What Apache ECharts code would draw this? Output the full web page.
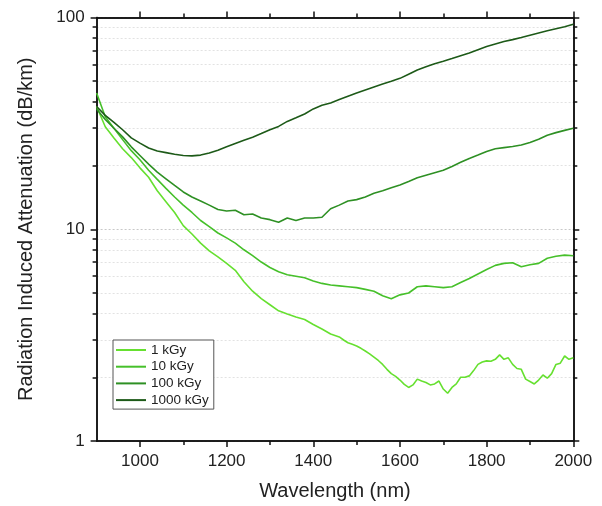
<!DOCTYPE html>
<html>
<head>
<meta charset="utf-8">
<script src="https://cdn.jsdelivr.net/npm/echarts@6/dist/echarts.min.js"></script>
<style>
  html, body { margin: 0; padding: 0; background: #fff; }
  #chart { width: 602px; height: 506px; }
</style>
</head>
<body>
<div id="chart"></div>
<script>
// Wavelength grid (nm) shared by the 10, 100 and 1000 kGy curves
const wavelength = [900, 920, 940, 960, 980, 1000, 1020, 1040, 1060, 1080,
  1100, 1120, 1140, 1160, 1180, 1200, 1220, 1240, 1260, 1280,
  1300, 1320, 1340, 1360, 1380, 1400, 1420, 1440, 1460, 1480,
  1500, 1520, 1540, 1560, 1580, 1600, 1620, 1640, 1660, 1680,
  1700, 1720, 1740, 1760, 1780, 1800, 1820, 1840, 1860, 1880,
  1900, 1920, 1940, 1960, 1980, 2000];

// Finer grid for the noisier 1 kGy curve
const wavelength1kGy = [900, 920, 940, 960, 980, 1000, 1020, 1040, 1060, 1080,
  1100, 1120, 1140, 1160, 1180, 1200, 1220, 1240, 1260, 1280,
  1300, 1320, 1340, 1360, 1380, 1400, 1420, 1440,
  1460, 1470, 1480, 1490, 1500, 1510, 1520, 1530, 1540, 1550,
  1560, 1570, 1580, 1590, 1600, 1610, 1620, 1630, 1640, 1650,
  1660, 1670, 1680, 1690, 1700, 1710, 1720, 1730, 1740, 1750,
  1760, 1770, 1780, 1790, 1800, 1810, 1820, 1830, 1840, 1850,
  1860, 1870, 1880, 1890, 1900, 1910, 1920, 1930, 1940, 1950,
  1960, 1970, 1980, 1990, 2000];

// Radiation induced attenuation (dB/km) per total dose
const ria1kGy = [38, 30.5, 27, 24, 21.8, 19.5, 17.6, 15.2, 13.5, 12.0,
  10.4, 9.5, 8.6, 7.9, 7.4, 6.9, 6.4, 5.65, 5.1, 4.7,
  4.4, 4.12, 3.98, 3.85, 3.75, 3.55, 3.38, 3.2,
  3.1, 3.0, 2.91, 2.86, 2.81, 2.74, 2.66, 2.58, 2.49, 2.40,
  2.30, 2.18, 2.08, 2.02, 1.94, 1.85, 1.79, 1.84, 1.96, 1.92,
  1.89, 1.84, 1.86, 1.92, 1.76, 1.68, 1.79, 1.86, 2.0, 2.0,
  2.03, 2.15, 2.30, 2.36, 2.39, 2.38, 2.43, 2.55, 2.43, 2.47,
  2.30, 2.20, 2.18, 1.96, 1.91, 1.86, 1.94, 2.05, 1.98, 2.08,
  2.30, 2.33, 2.52, 2.43, 2.47];

const ria10kGy = [44, 34, 30, 26.5, 23.5, 21.3, 19.0, 17.2, 15.6, 14.2,
  13.0, 12.0, 11.0, 10.3, 9.6, 9.1, 8.6, 8.0, 7.5, 7.0,
  6.6, 6.3, 6.1, 6.0, 5.9, 5.7, 5.55, 5.45, 5.4, 5.35,
  5.3, 5.2, 5.1, 4.85, 4.7, 4.9, 5.0, 5.35, 5.4, 5.35,
  5.3, 5.35, 5.6, 5.85, 6.15, 6.45, 6.75, 6.9, 6.95, 6.65,
  6.8, 6.9, 7.3, 7.45, 7.55, 7.5];

const ria100kGy = [37, 33, 30, 27.3, 24.5, 22.3, 20.3, 18.6, 17.3, 16.1,
  15.0, 14.2, 13.6, 13.0, 12.4, 12.2, 12.3, 11.7, 11.8, 11.3,
  11.1, 10.8, 11.3, 11.0, 11.3, 11.3, 11.4, 12.5, 13.0, 13.6,
  13.8, 14.2, 14.8, 15.2, 15.7, 16.2, 16.8, 17.5, 18.0, 18.5,
  19.0, 19.8, 20.7, 21.6, 22.4, 23.3, 24.0, 24.3, 24.6, 25.0,
  25.7, 26.6, 27.8, 28.6, 29.3, 30];

const ria1000kGy = [38, 34.5, 32, 29.5, 27, 25.5, 24.2, 23.4, 23.0, 22.6,
  22.3, 22.2, 22.4, 22.9, 23.6, 24.5, 25.4, 26.3, 27.2, 28.3,
  29.5, 30.6, 32.3, 33.6, 35.0, 37.0, 38.5, 39.5, 41.0, 42.5,
  44.0, 45.5, 47.0, 48.5, 50.0, 51.6, 54.0, 56.5, 58.5, 60.5,
  62.2, 64.0, 66.0, 68.0, 70.5, 73.0, 75.0, 77.0, 78.6, 80.5,
  82.5, 84.5, 86.5, 88.5, 90.5, 93];

const seriesNames = ['1 kGy', '10 kGy', '100 kGy', '1000 kGy'];
const seriesColors = ['#66e030', '#46c02a', '#2e9024', '#1d5a18'];

// Tick positions
const xMajorTicks = [1000, 1200, 1400, 1600, 1800, 2000];
const xMinorTicks = [1100, 1300, 1500, 1700, 1900];
const yMajorTicks = [1, 10, 100];
const yMinorTicks = [2, 3, 4, 5, 6, 7, 8, 9, 20, 30, 40, 50, 60, 70, 80, 90];

const FONT = '"Liberation Sans", Arial, sans-serif';
const AXIS_COLOR = '#111';
const plainNumber = v => String(Math.round(v));

function xAxisDef(position, ticks, len, withLabels) {
  return {
    type: 'value', position: position, min: 900, max: 2000,
    axisLine: { show: true, onZero: false, lineStyle: { color: AXIS_COLOR, width: 1.5 } },
    axisTick: { show: true, inside: false, length: len, customValues: ticks,
      lineStyle: { color: AXIS_COLOR, width: 1.5 } },
    axisLabel: withLabels
      ? { show: true, customValues: ticks, formatter: plainNumber,
          fontFamily: FONT, fontSize: 17, color: '#222', margin: 12 }
      : { show: false },
    splitLine: { show: false }
  };
}

function yAxisDef(position, ticks, len, withLabels, gridColor) {
  return {
    type: 'log', logBase: 10, position: position, min: 1, max: 100,
    axisLine: { show: true, onZero: false, lineStyle: { color: AXIS_COLOR, width: 1.5 } },
    axisTick: { show: true, inside: false, length: len, customValues: ticks,
      lineStyle: { color: AXIS_COLOR, width: 1.5 } },
    axisLabel: withLabels
      ? { show: true, customValues: ticks, formatter: plainNumber,
          fontFamily: FONT, fontSize: 17, color: '#222', margin: 12 }
      : { show: false },
    splitLine: gridColor
      ? { show: true, lineStyle: { color: gridColor, type: [2, 2], width: 1 } }
      : { show: false }
  };
}

const xMain = xAxisDef('bottom', xMajorTicks, 6, true);
xMain.name = 'Wavelength (nm)';
xMain.nameLocation = 'middle';
xMain.nameGap = 40;
xMain.nameTextStyle = { fontFamily: FONT, fontSize: 20, color: '#222' };

const yMain = yAxisDef('left', yMajorTicks, 6, true, '#c8c8c8');
yMain.name = 'Radiation Induced Attenuation (dB/km)';
yMain.nameLocation = 'middle';
yMain.nameGap = 60;
yMain.nameTextStyle = { fontFamily: FONT, fontSize: 20, color: '#222' };

const seriesX = [wavelength1kGy, wavelength, wavelength, wavelength];
const seriesY = [ria1kGy, ria10kGy, ria100kGy, ria1000kGy];

const option = {
  backgroundColor: '#fff',
  animation: false,
  grid: { left: 96.6, right: 28.7, top: 17.5, bottom: 62, containLabel: false },
  xAxis: [
    xMain,
    xAxisDef('top', xMajorTicks, 6, false),
    xAxisDef('bottom', xMinorTicks, 4, false),
    xAxisDef('top', xMinorTicks, 4, false)
  ],
  yAxis: [
    yMain,
    yAxisDef('right', yMajorTicks, 6, false, null),
    yAxisDef('left', yMinorTicks, 4, false, '#e2e2e2'),
    yAxisDef('right', yMinorTicks, 4, false, null)
  ],
  legend: {
    orient: 'vertical',
    left: 113, top: 340,
    padding: [3, 5, 2, 2],
    itemWidth: 30, itemHeight: 14, itemGap: 2.7,
    itemStyle: { opacity: 0 },
    borderColor: '#555', borderWidth: 1,
    backgroundColor: '#fff',
    textStyle: { fontFamily: FONT, fontSize: 13.5, color: '#222', lineHeight: 14 },
    data: seriesNames
  },
  series: seriesNames.map((name, k) => ({
    name: name,
    type: 'line',
    xAxisIndex: 0,
    yAxisIndex: 0,
    symbol: 'none',
    smooth: false,
    lineStyle: { color: seriesColors[k], width: 1.6 },
    itemStyle: { color: seriesColors[k] },
    data: seriesX[k].map((w, i) => [w, seriesY[k][i]]),
    z: 3 + k
  }))
};

const chart = echarts.init(document.getElementById('chart'), null, { renderer: 'canvas' });
chart.setOption(option);
</script>
</body>
</html>
